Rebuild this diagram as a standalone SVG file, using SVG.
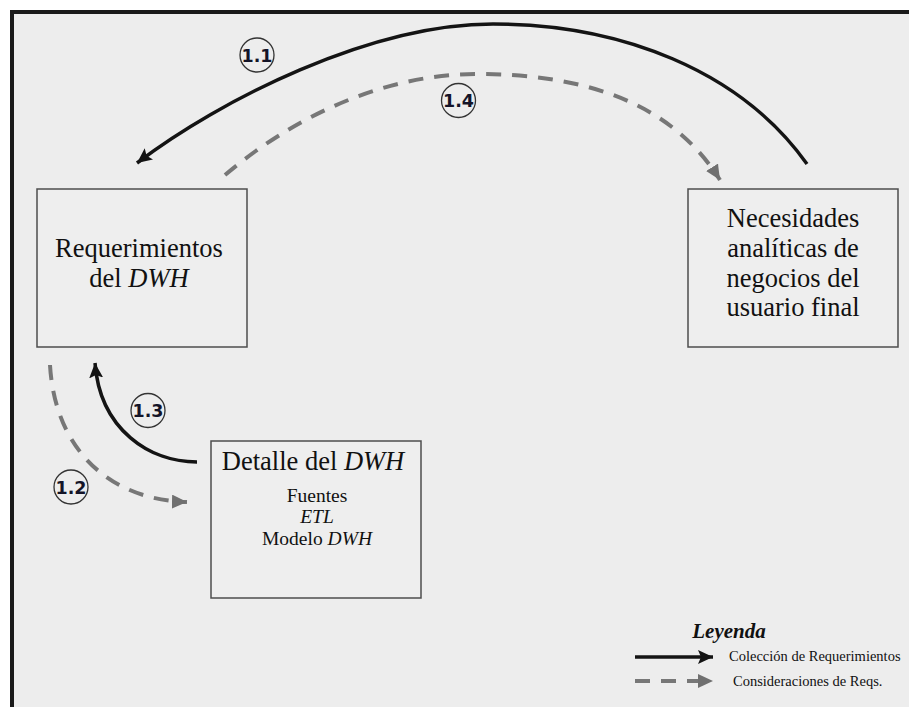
<svg xmlns="http://www.w3.org/2000/svg" width="909" height="707" viewBox="0 0 909 707">
  <style>
    .box { fill: #eeeeee; stroke: #4d4d4d; stroke-width: 1.5; }
    .lbl { font-family: "Liberation Serif", "Times New Roman", serif; fill: #111111; text-anchor: middle; }
    .big { font-size: 26.5px; }
    .small { font-size: 19.5px; }
    .it { font-style: italic; }
    .solid { fill: none; stroke: #141414; stroke-width: 3.5; }
    .dash { fill: none; stroke: #777777; stroke-width: 4; stroke-dasharray: 15 11; }
    .circ { fill: none; stroke: #333333; stroke-width: 1.3; }
    .num { font-family: "DejaVu Sans", Verdana, sans-serif; font-weight: bold; font-size: 17.5px; fill: #141428; text-anchor: middle; }
    .leg { font-family: "Liberation Serif", "Times New Roman", serif; font-size: 14.5px; fill: #111111; }
  </style>
  <defs>
    <marker id="ah-solid" markerUnits="userSpaceOnUse" markerWidth="16" markerHeight="14" refX="15" refY="7" orient="auto">
      <path d="M0,0 L15,7 L0,14 L3,7 Z" fill="#141414"/>
    </marker>
    <marker id="ah-dash" markerUnits="userSpaceOnUse" markerWidth="16" markerHeight="14" refX="15" refY="7" orient="auto">
      <path d="M0,0 L15,7 L0,14 Z" fill="#707070"/>
    </marker>
  </defs>

  <rect x="0" y="0" width="909" height="707" fill="#ffffff"/>
  <rect x="12" y="12" width="897" height="695" fill="#ededed"/>
  <line x1="10" y1="12" x2="909" y2="12" stroke="#1a1a1a" stroke-width="4"/>
  <line x1="12" y1="10" x2="12" y2="707" stroke="#1a1a1a" stroke-width="4"/>

  <g id="connectors">
    <path id="c11" class="solid" d="M807,164 C740,70 620,24 493,24 C370,24 220,100 137,163" marker-end="url(#ah-solid)"/>
    <path id="c14" class="dash" d="M225,175 C290,120 380,74 477,74 C580,74 670,100 720,180" marker-end="url(#ah-dash)"/>
    <path id="c13" class="solid" d="M197,462 C150,462 100,430 95,363" marker-end="url(#ah-solid)"/>
    <path id="c12" class="dash" d="M50,365 C55,450 110,500 187,502" marker-end="url(#ah-dash)"/>

    <g id="lbl-11"><circle class="circ" cx="257" cy="55" r="17"/><text class="num" x="257" y="61.5">1.1</text></g>
    <g id="lbl-14"><circle class="circ" cx="458.5" cy="100.5" r="17"/><text class="num" x="458.5" y="107">1.4</text></g>
    <g id="lbl-13"><circle class="circ" cx="148" cy="410.5" r="17"/><text class="num" x="148" y="417">1.3</text></g>
    <g id="lbl-12"><circle class="circ" cx="71" cy="487" r="17"/><text class="num" x="71" y="493.5">1.2</text></g>
  </g>

  <g id="node-requerimientos">
    <rect class="box" x="37" y="189" width="210" height="158"/>
    <text class="lbl big" x="139" y="257">Requerimientos</text>
    <text class="lbl big" x="139" y="287">del <tspan class="it">DWH</tspan></text>
  </g>

  <g id="node-necesidades">
    <rect class="box" x="688" y="189" width="210" height="158"/>
    <text class="lbl big" x="793" y="227">Necesidades</text>
    <text class="lbl big" x="793" y="257">analíticas de</text>
    <text class="lbl big" x="793" y="287">negocios del</text>
    <text class="lbl big" x="793" y="316">usuario final</text>
  </g>

  <g id="node-detalle">
    <rect class="box" x="211" y="441" width="210" height="157"/>
    <text class="lbl big" x="313" y="470">Detalle del <tspan class="it">DWH</tspan></text>
    <text class="lbl small" x="317" y="502">Fuentes</text>
    <text class="lbl small it" x="317" y="523">ETL</text>
    <text class="lbl small" x="317" y="545">Modelo <tspan class="it">DWH</tspan></text>
  </g>

  <g id="legend">
    <text x="729" y="638" font-family="Liberation Serif, Times New Roman, serif" font-size="21" font-weight="bold" font-style="italic" fill="#111111" text-anchor="middle">Leyenda</text>
    <line class="solid" x1="635" y1="657" x2="713" y2="657" marker-end="url(#ah-solid)"/>
    <text class="leg" x="729" y="661">Colección de Requerimientos</text>
    <line class="dash" x1="635" y1="681" x2="713" y2="681" marker-end="url(#ah-dash)"/>
    <text class="leg" x="733" y="686">Consideraciones de Reqs.</text>
  </g>
</svg>
